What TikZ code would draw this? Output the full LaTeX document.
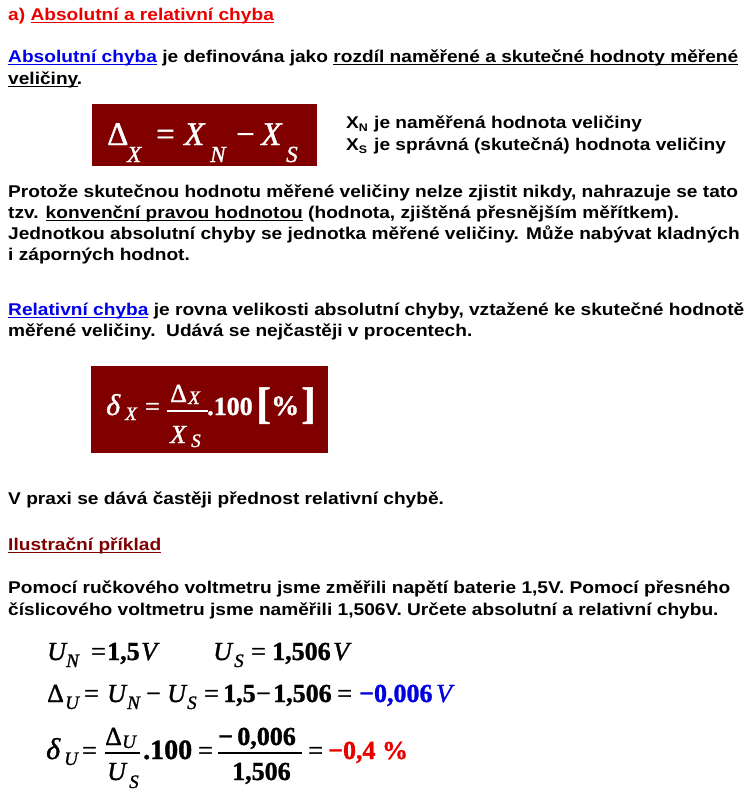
\documentclass[tikz,border=0pt]{standalone}
\usepackage{fontspec}
\setmainfont{Liberation Sans}
\newfontfamily\bodyf{Liberation Sans}[FakeStretch=1.125]
\newfontfamily\tnr{Liberation Serif}[FakeBold=1.2]
\definecolor{boxred}{RGB}{128,0,0}
\definecolor{lnkblue}{RGB}{0,0,235}
\definecolor{titred}{RGB}{235,0,0}
\definecolor{resblue}{RGB}{0,0,225}
\definecolor{resred}{RGB}{235,0,0}
\newlength\ulw
\newcommand\ul[1]{\settowidth\ulw{#1}\rlap{\rule[-3.4pt]{\ulw}{1.8pt}}#1}
\tikzset{
  txt/.style={anchor=base west, inner sep=0pt, font=\bodyf\bfseries\fontsize{17}{20}\selectfont},
  bx/.style={fill=boxred, draw=none, anchor=north west, inner sep=0pt},
  b1m/.style={anchor=base west, inner sep=0pt, text=white, font=\tnr\fontsize{33}{36}\selectfont},
  b1s/.style={anchor=base west, inner sep=0pt, text=white, font=\tnr\itshape\fontsize{23}{26}\selectfont},
  mm/.style={anchor=base west, inner sep=0pt, font=\tnr\fontsize{26}{30}\selectfont},
  ms/.style={anchor=base west, inner sep=0pt, font=\tnr\itshape\fontsize{19}{22}\selectfont},
  mb/.style={anchor=base west, inner sep=0pt, font=\tnr\bfseries\fontsize{26}{30}\selectfont},
  fbar/.style={line width=1.4pt},
}
\begin{document}
\begin{tikzpicture}[x=1pt,y=-1pt]
\useasboundingbox[fill=white] (0,0) rectangle (751,793);
% header and first paragraph
\node[txt, text=titred] (t1) at (8,20) {a) \ul{Absolutní a relativní chyba}};
\node[txt] (t2) at (8,62) {\textcolor{lnkblue}{\ul{Absolutní chyba}} je definována jako \ul{rozdíl naměřené a skutečné hodnoty měřené}};
\node[txt] (t3) at (8,84) {\ul{veličiny}.};
% box 1
\node[bx, minimum width=225pt, minimum height=62pt] (box1) at (92,104) {};
\node[b1m] (b1d) at (107,145) {Δ};
\node[b1s] (b1dx) at (127,162) {X};
\node[b1m] (b1eq) at (156,145) {=};
\node[b1m] (b1x1) at (184,145) {\textit{X}};
\node[b1s] (b1n) at (210,162) {N};
\node[b1m] (b1mi) at (236,145) {−};
\node[b1m] (b1x2) at (261,145) {\textit{X}};
\node[b1s] (b1ss) at (286,162) {S};
\node[txt] (xn) at (346,128) {X\raisebox{-3.5pt}{\fontsize{11}{11}\selectfont N}};
\node[txt] (xnt) at (374,128) {je naměřená hodnota veličiny};
\node[txt] (xs) at (346,150) {X\raisebox{-3.5pt}{\fontsize{11}{11}\selectfont S}};
\node[txt] (xst) at (374,150) {je správná (skutečná) hodnota veličiny};
% paragraph
\node[txt] (p1) at (8,197) {Protože skutečnou hodnotu měřené veličiny nelze zjistit nikdy, nahrazuje se tato};
\node[txt] (p2) at (8,218) {tzv. \ul{konvenční pravou hodnotou} (hodnota, zjištěná přesnějším měřítkem).};
\node[txt] (p3) at (8,239) {Jednotkou absolutní chyby se jednotka měřené veličiny. Může nabývat kladných};
\node[txt] (p4) at (8,260) {i záporných hodnot.};
\node[txt] (r1) at (8,315) {\textcolor{lnkblue}{\ul{Relativní chyba}} je rovna velikosti absolutní chyby, vztažené ke skutečné hodnotě};
\node[txt] (r2) at (8,336) {měřené veličiny.\ \ Udává se nejčastěji v procentech.};
% box 2
\node[bx, minimum width=237pt, minimum height=87pt] (box2) at (91,366) {};
\node[mm, text=white, font=\tnr\itshape\fontsize{30}{32}\selectfont] (b2de) at (106,415) {δ};
\node[ms, text=white] (b2dx) at (125,420) {X};
\node[mm, text=white] (b2eq) at (145,415) {=};
\node[mm, text=white] (b2nd) at (170,402) {Δ};
\node[ms, text=white] (b2nx) at (188,404) {X};
\draw[fbar, white] (167,411) -- (208,411);
\node[mm, text=white] (b2dX) at (170,443) {\textit{X}};
\node[ms, text=white] (b2dS) at (191,447) {S};
\node[mb, text=white] (b2h) at (207,415) {.100};
\node[mb, text=white, font=\tnr\bfseries\fontsize{44}{46}\selectfont] (b2lb) at (256,418) {[};
\node[mb, text=white, font=\tnr\bfseries\fontsize{28}{30}\selectfont] (b2pc) at (271,415) {\%};
\node[mb, text=white, font=\tnr\bfseries\fontsize{44}{46}\selectfont] (b2rb) at (301,418) {]};
% remaining text
\node[txt] (v1) at (8,504) {V praxi se dává častěji přednost relativní chybě.};
\node[txt, text=boxred] (il) at (8,550) {\ul{Ilustrační příklad}};
\node[txt] (e1) at (8,593) {Pomocí ručkového voltmetru jsme změřili napětí baterie 1,5V. Pomocí přesného};
\node[txt] (e2) at (8,615) {číslicového voltmetru jsme naměřili 1,506V. Určete absolutní a relativní chybu.};
% math line 1
\node[mm] (a1) at (47,660) {\textit{U}};
\node[ms] (a2) at (66,667) {N};
\node[mm] (a3) at (91,660) {=};
\node[mb] (a4) at (107,660) {1,5};
\node[mm] (a5) at (141,660) {\textit{V}};
\node[mm] (a6) at (213,660) {\textit{U}};
\node[ms] (a7) at (234,667) {S};
\node[mm] (a8) at (251,660) {=};
\node[mb] (a9) at (272,660) {1,506};
\node[mm] (a10) at (333,660) {\textit{V}};
% math line 2
\node[mm] (c1) at (47,702) {Δ};
\node[ms] (c2) at (65,709) {U};
\node[mm] (c3) at (84,702) {=};
\node[mm] (c4) at (107,702) {\textit{U}};
\node[ms] (c5) at (127,709) {N};
\node[mm] (c6) at (146,702) {−};
\node[mm] (c7) at (167,702) {\textit{U}};
\node[ms] (c8) at (187,709) {S};
\node[mm] (c9) at (204,702) {=};
\node[mb] (c10) at (223,702) {1,5};
\node[mm] (c11) at (256,702) {−};
\node[mb] (c12) at (273,702) {1,506};
\node[mm] (c13) at (337,702) {=};
\node[mb, text=resblue] (c14) at (359,702) {−0,006};
\node[mm, text=resblue] (c15) at (436,702) {\textit{V}};
% math line 3
\node[mm, font=\tnr\itshape\fontsize{30}{32}\selectfont] (d1) at (46,759) {δ};
\node[ms] (d2) at (64,765) {U};
\node[mm] (d3) at (82,759) {=};
\node[mm] (d4) at (105,745) {Δ};
\node[ms] (d5) at (122,748) {U};
\draw[fbar] (105,753) -- (140,753);
\node[mm] (d6) at (107,780) {\textit{U}};
\node[ms] (d7) at (129,788) {S};
\node[mb, font=\tnr\bfseries\fontsize{28}{30}\selectfont] (d8) at (143,759) {.100};
\node[mm] (d9) at (198,759) {=};
\node[mb] (d10) at (218,745) {−\,0,006};
\draw[fbar] (218,753) -- (302,753);
\node[mb] (d11) at (232,780) {1,506};
\node[mm] (d12) at (308,759) {=};
\node[mb, text=resred] (d13) at (328,759) {−0,4 \%};
\end{tikzpicture}
\end{document}
